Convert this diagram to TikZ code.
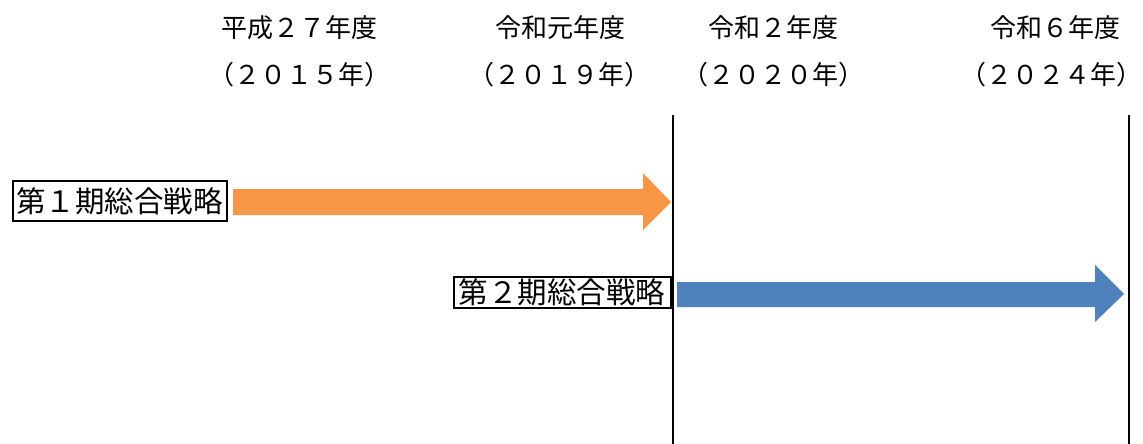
\documentclass[tikz,border=0pt]{standalone}
\usepackage{fontspec}
\newfontfamily\jp{Noto Sans CJK JP}
\definecolor{arrorange}{HTML}{F79646}
\definecolor{arrblue}{HTML}{4F81BD}
\begin{document}
\begin{tikzpicture}[x=1pt,y=-1pt,
  hdr/.style={font=\jp\fontsize{26}{26}\selectfont, inner sep=0pt, anchor=center},
  lbl/.style={draw=black, line width=2pt, font=\jp\fontsize{29.5}{29.5}\selectfont, inner sep=0pt, anchor=center},
  vline/.style={line width=1.8pt, draw=black}]
\useasboundingbox (0,0) rectangle (1143,444);
% headers
\node[hdr] (h1) at (299,28) {平成２７年度};
\node[hdr] (y1) at (299,75) {（２０１５年）};
\node[hdr] (h2) at (560,28) {令和元年度};
\node[hdr] (y2) at (559,75) {（２０１９年）};
\node[hdr] (h3) at (773,28) {令和２年度};
\node[hdr] (y3) at (773,75) {（２０２０年）};
\node[hdr] (h4) at (1055,28) {令和６年度};
\node[hdr] (y4) at (1051,75) {（２０２４年）};
% vertical lines
\coordinate (v1t) at (673,115);
\coordinate (v1b) at (673,444);
\coordinate (v2t) at (1129,115);
\coordinate (v2b) at (1129,444);
\draw[vline] (v1t) -- (v1b);
\draw[vline] (v2t) -- (v2b);
% arrows
\fill[arrorange] (233,189) -- (643,189) -- (643,173) -- (671,202) -- (643,230) -- (643,215) -- (233,215) -- cycle;
\fill[arrblue] (677,282) -- (1095,282) -- (1095,265) -- (1124,294) -- (1095,322) -- (1095,307) -- (677,307) -- cycle;
% labels
\node[lbl, minimum width=214, minimum height=40] (l1) at (119.5,201) {第１期総合戦略};
\node[lbl, minimum width=217, minimum height=31] (l2) at (562,292.5) {第２期総合戦略};
\end{tikzpicture}
\end{document}
